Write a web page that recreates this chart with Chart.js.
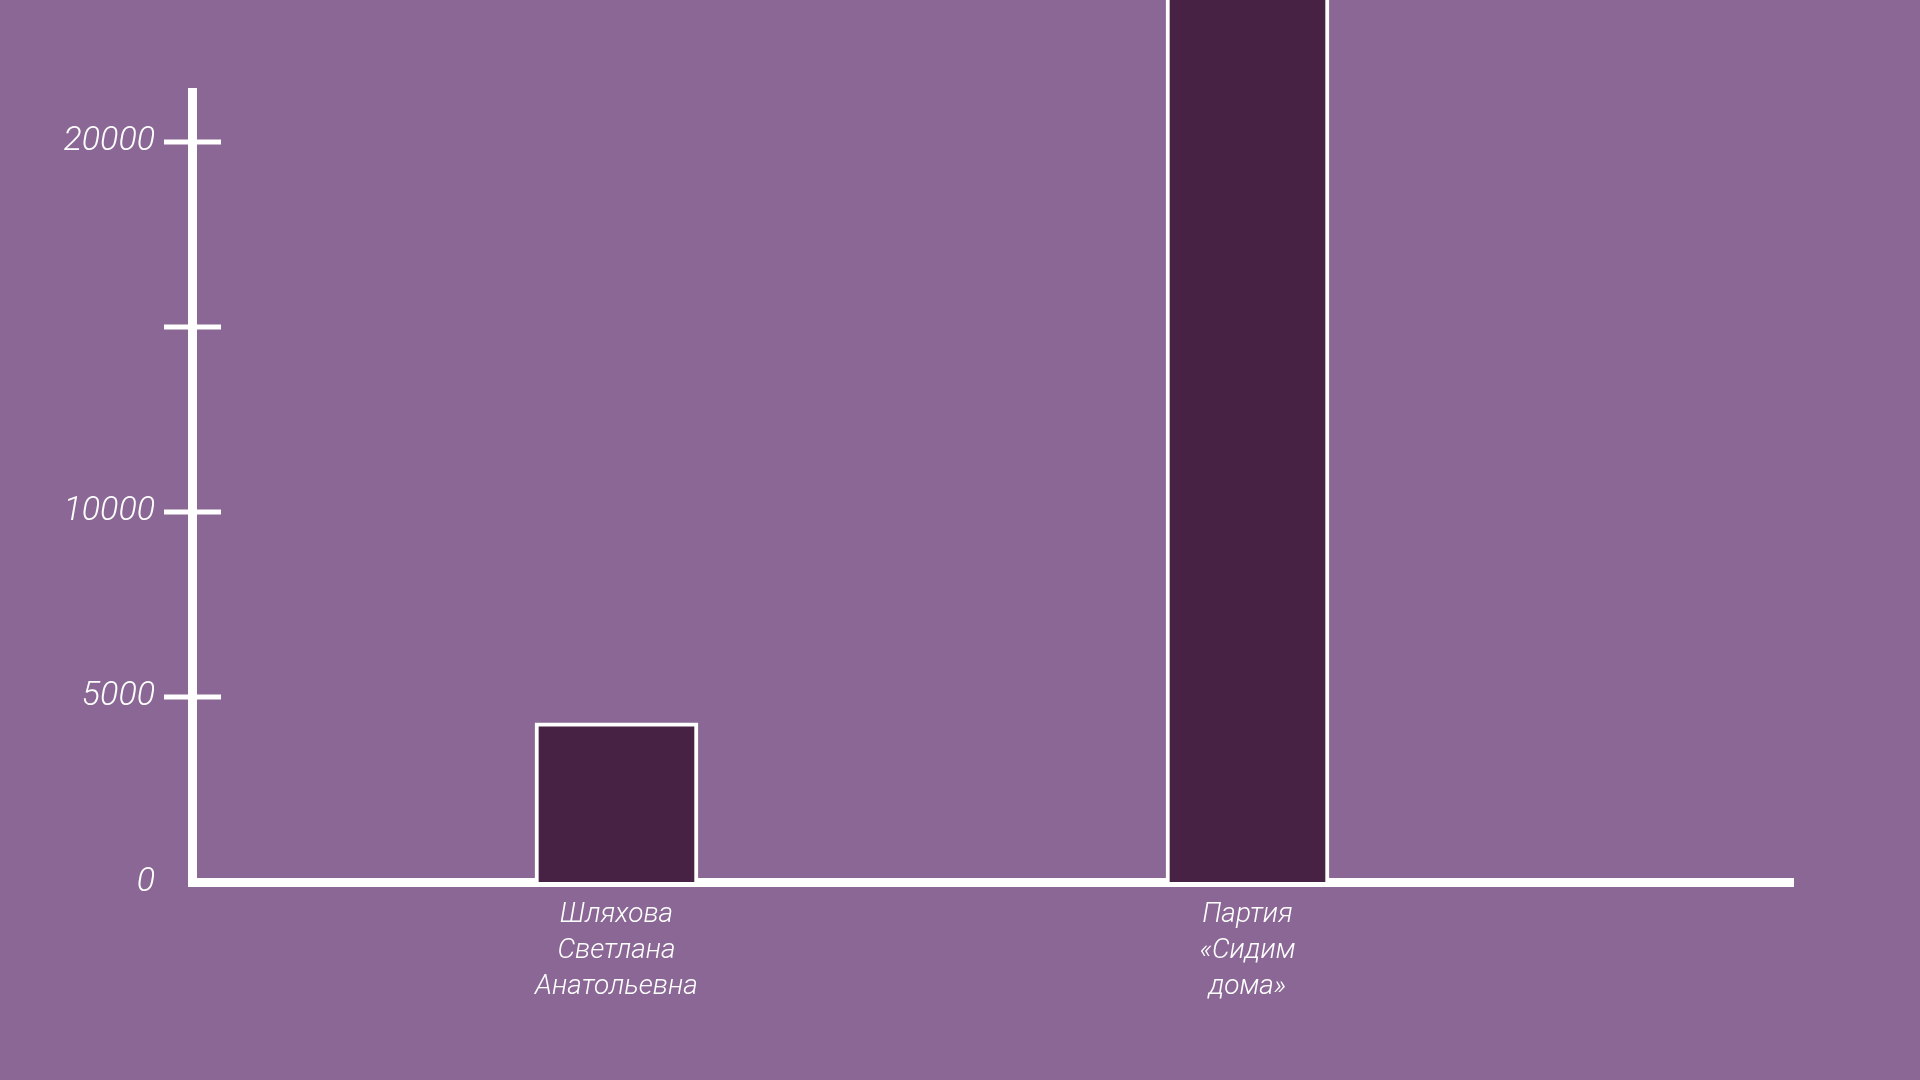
<!DOCTYPE html>
<html>
<head>
<meta charset="utf-8">
<script src="https://cdn.jsdelivr.net/npm/chart.js@4/dist/chart.umd.min.js"></script>
<style>
  html, body { margin: 0; padding: 0; background: #8a6794; }
  #chart { display: block; }
</style>
</head>
<body>
<canvas id="chart" width="1920" height="1080"></canvas>
<script>
// data
const categories = [
  ['Шляхова', 'Светлана', 'Анатольевна'],
  ['Партия', '«Сидим', 'дома»']
];
const positions = [1, 2];
const votes = [4300, 24000];
const yTicks = [0, 5000, 10000, 15000, 20000];
const yTickLabels = ['0', '5000', '10000', '', '20000'];

const white = '#ffffff';
const barColor = '#472244';

// tick marks that cross the y axis on both sides
const crossTicks = {
  id: 'crossTicks',
  afterDraw(chart) {
    const ctx = chart.ctx;
    const y = chart.scales.y;
    const x0 = chart.chartArea.left;
    ctx.save();
    ctx.strokeStyle = white;
    ctx.lineWidth = 5;
    yTicks.forEach(v => {
      if (v === 0) return;
      const py = y.getPixelForValue(v);
      ctx.beginPath();
      ctx.moveTo(x0 - 28, py);
      ctx.lineTo(x0 + 29, py);
      ctx.stroke();
    });
    ctx.restore();
  }
};

const chartEl = document.getElementById('chart');
const chart = new Chart(chartEl, {
  type: 'bar',
  data: {
    datasets: [
      {
        data: positions.map((p, i) => ({ x: p, y: votes[i] })),
        backgroundColor: barColor,
        borderColor: white,
        borderWidth: 4,
        borderSkipped: 'start',
        barThickness: 163,
        clip: false
      }
    ]
  },
  options: {
    responsive: false,
    animation: false,
    layout: {
      padding: { top: 92, right: 127, left: 0, bottom: 0 }
    },
    plugins: {
      legend: { display: false },
      tooltip: { enabled: false }
    },
    scales: {
      x: {
        type: 'linear',
        offset: false,
        min: 0.3273,
        max: 2.8645,
        grid: { display: false, drawTicks: false },
        border: { display: true, color: white, width: 9 },
        afterFit: function (scale) {
          scale.height = 198;
        },
        afterBuildTicks: function (scale) {
          scale.ticks = positions.map(p => ({ value: p }));
        },
        ticks: {
          autoSkip: false,
          maxRotation: 0,
          padding: 15,
          color: white,
          font: { family: 'Roboto', style: 'italic', weight: 300, size: 28, lineHeight: 1.29 },
          callback: function (value) {
            const i = positions.indexOf(value);
            return i >= 0 ? categories[i] : '';
          }
        }
      },
      y: {
        min: 0,
        max: 21350,
        grid: { display: false, drawTicks: false },
        border: { display: true, color: white, width: 9 },
        afterFit: function (scale) {
          scale.width = 192;
        },
        afterBuildTicks: function (scale) {
          scale.ticks = yTicks.map(v => ({ value: v }));
        },
        ticks: {
          padding: 37,
          color: white,
          font: { family: 'Roboto', style: 'italic', weight: 300, size: 34 },
          callback: function (value) {
            const i = yTicks.indexOf(value);
            return i >= 0 ? yTickLabels[i] : '';
          }
        }
      }
    }
  },
  plugins: [crossTicks]
});
</script>
</body>
</html>
